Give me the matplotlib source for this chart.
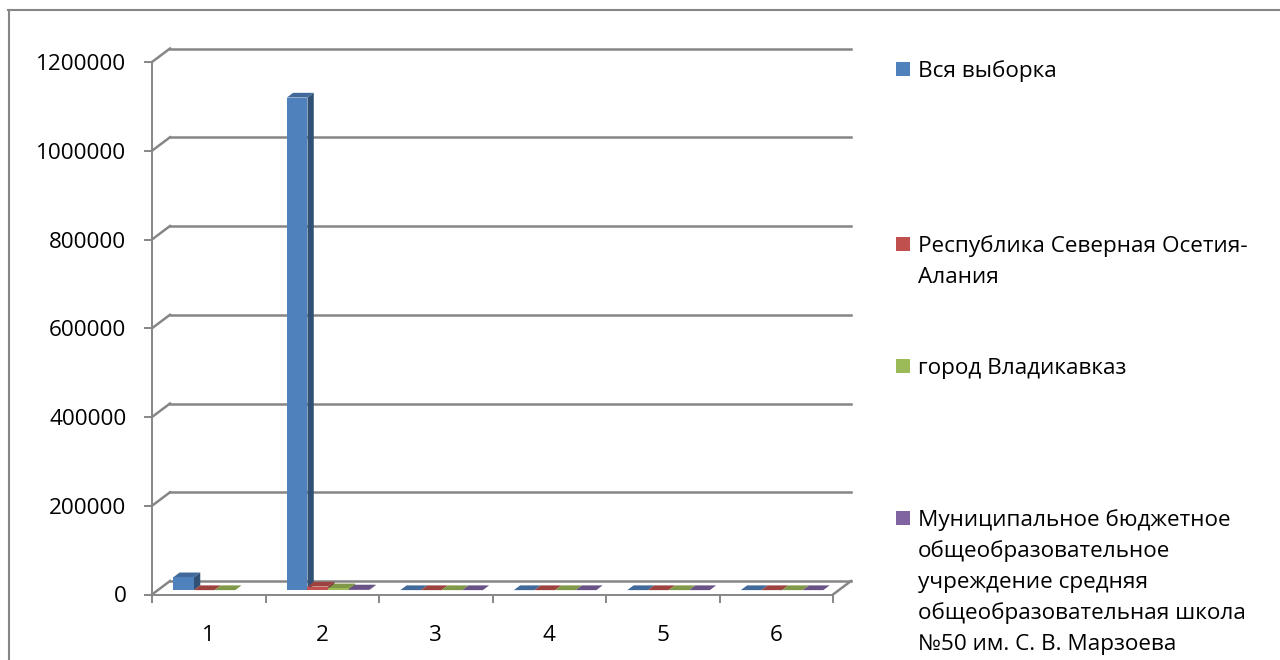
import numpy as np
import matplotlib
matplotlib.use("Agg")
import matplotlib.pyplot as plt
from matplotlib.patches import Polygon, Rectangle
from matplotlib.lines import Line2D
from matplotlib.colors import to_rgb

plt.rcParams['font.family'] = ['Open Sans', 'DejaVu Sans']

# ---------------- data ----------------
categories = ["1", "2", "3", "4", "5", "6"]
series_names = [
    "Вся выборка",
    "Республика Северная Осетия-\nАлания",
    "город Владикавказ",
    "Муниципальное бюджетное\nобщеобразовательное\nучреждение средняя\nобщеобразовательная школа\n№50 им. С. В. Марзоева",
]
vals_all = [29000, 1110000, 0, 0, 0, 0]
vals_republic = [0, 8000, 0, 0, 0, 0]
vals_city = [0, 4000, 0, 0, 0, 0]
vals_school = [np.nan, 1500, 0, 0, 0, 0]
yticks = [0, 200000, 400000, 600000, 800000, 1000000, 1200000]

series_values = [vals_all, vals_republic, vals_city, vals_school]
colors = ["#4F81BD", "#C0504D", "#9BBB59", "#8064A2"]

# ---------------- layout (pixels) ----------------
W, H = 1280, 660
X0, X1 = 152, 833        # front x-axis extent
Y0, Y1 = 594.5, 62       # front y of 0 and of YMAX
DXP, DYP = 18, 13.5      # depth offset of the floor (oblique projection)
YMAX = yticks[-1]
NCAT = len(categories)
GRAY = "#868686"
FS = 16.2

fig = plt.figure(figsize=(W / 100, H / 100), dpi=100)
fig.patch.set_facecolor("white")

ax = fig.add_axes([X0 / W, (H - Y0) / H, (X1 - X0 + DXP) / W, (Y0 - Y1 + DYP) / H])
DX = DXP * NCAT / (X1 - X0)
DY = DYP * YMAX / (Y0 - Y1)
ax.set_xlim(0, NCAT + DX)
ax.set_ylim(0, YMAX + DY)
ax.patch.set_alpha(0)

for s in ["top", "right"]:
    ax.spines[s].set_visible(False)
for s in ["left", "bottom"]:
    ax.spines[s].set_color(GRAY)
    ax.spines[s].set_linewidth(1.4)
ax.spines["left"].set_bounds(0, YMAX)
ax.spines["bottom"].set_bounds(0, NCAT)

ax.set_yticks(yticks)
ax.set_yticklabels([str(t) for t in yticks])
ax.tick_params(axis="y", direction="out", length=5.5, width=1.4, color=GRAY,
               pad=13, labelsize=FS, labelcolor="black")
ax.set_xticks(np.arange(NCAT + 1))
ax.set_xticklabels([])
ax.set_xticks(np.arange(NCAT) + 0.5, minor=True)
ax.set_xticklabels(categories, minor=True)
ax.tick_params(axis="x", which="major", direction="out", length=6, width=1.4, color=GRAY)
ax.tick_params(axis="x", which="minor", length=0, pad=22, labelsize=FS, labelcolor="black")

# back wall gridlines and left wall diagonals
lw_grid = 1.8
for v in yticks:
    ax.add_line(Line2D([DX, NCAT + DX], [v + DY, v + DY], color=GRAY, lw=lw_grid,
                       zorder=1, clip_on=False))
    ax.add_line(Line2D([0, DX], [v, v + DY], color=GRAY, lw=lw_grid, zorder=1, clip_on=False))
# floor right edge
ax.add_line(Line2D([NCAT, NCAT + DX], [0, DY], color=GRAY, lw=lw_grid, zorder=1, clip_on=False))

# ---------------- bars (3D-like columns) ----------------
nser = len(series_values)
gap = 1.5
w = 1.0 / (nser + gap)
d0, dd = 0.325, 0.35     # bar depth start and depth (fractions of floor depth)


def shade(c, f):
    r, g, b = to_rgb(c)
    return (r * f, g * f, b * f)


x_idx = np.arange(NCAT)
for j, (vals, col) in enumerate(zip(series_values, colors)):
    vals = np.asarray(vals, dtype=float)
    xl = x_idx + gap / 2 * w + j * w + d0 * DX
    base = d0 * DY
    z = 2 + j * 0.1
    ex, ey = dd * DX, dd * DY
    for xi, v in zip(xl, vals):
        if np.isnan(v):
            continue
        top = base + v
        side = Polygon([(xi + w, base), (xi + w, top), (xi + w + ex, top + ey),
                        (xi + w + ex, base + ey)], closed=True,
                       facecolor=shade(col, 0.62), edgecolor="none", zorder=z)
        topf = Polygon([(xi, top), (xi + w, top), (xi + w + ex, top + ey),
                        (xi + ex, top + ey)], closed=True,
                       facecolor=shade(col, 0.82), edgecolor="none", zorder=z + 0.01)
        ax.add_patch(side)
        ax.add_patch(topf)
    ax.bar(xl, np.nan_to_num(vals), width=w, bottom=base, align="edge",
           color=col, edgecolor="none", zorder=z + 0.02)

# ---------------- legend ----------------
def fy(py):
    return (H - py) / H


leg_baselines = [[77], [252, 283], [374], [526, 557, 588, 619, 650]]
for name, col, bls in zip(series_names, colors, leg_baselines):
    lines = name.split("\n")
    fig.patches.append(Rectangle((896 / W, fy(bls[0] - 1)), 14 / W, 14 / H,
                                 transform=fig.transFigure, facecolor=col,
                                 edgecolor="none"))
    for line, bl in zip(lines, bls):
        fig.text(918 / W, fy(bl), line, fontsize=FS, va="baseline", ha="left", color="black")

# ---------------- chart border ----------------
fig.add_artist(Line2D([8 / W, 1.0], [fy(10), fy(10)], color=GRAY, lw=1.5,
                      transform=fig.transFigure))
fig.add_artist(Line2D([9 / W, 9 / W], [fy(10), 0], color=GRAY, lw=1.5,
                      transform=fig.transFigure))

fig.savefig("out.png", dpi=100)
